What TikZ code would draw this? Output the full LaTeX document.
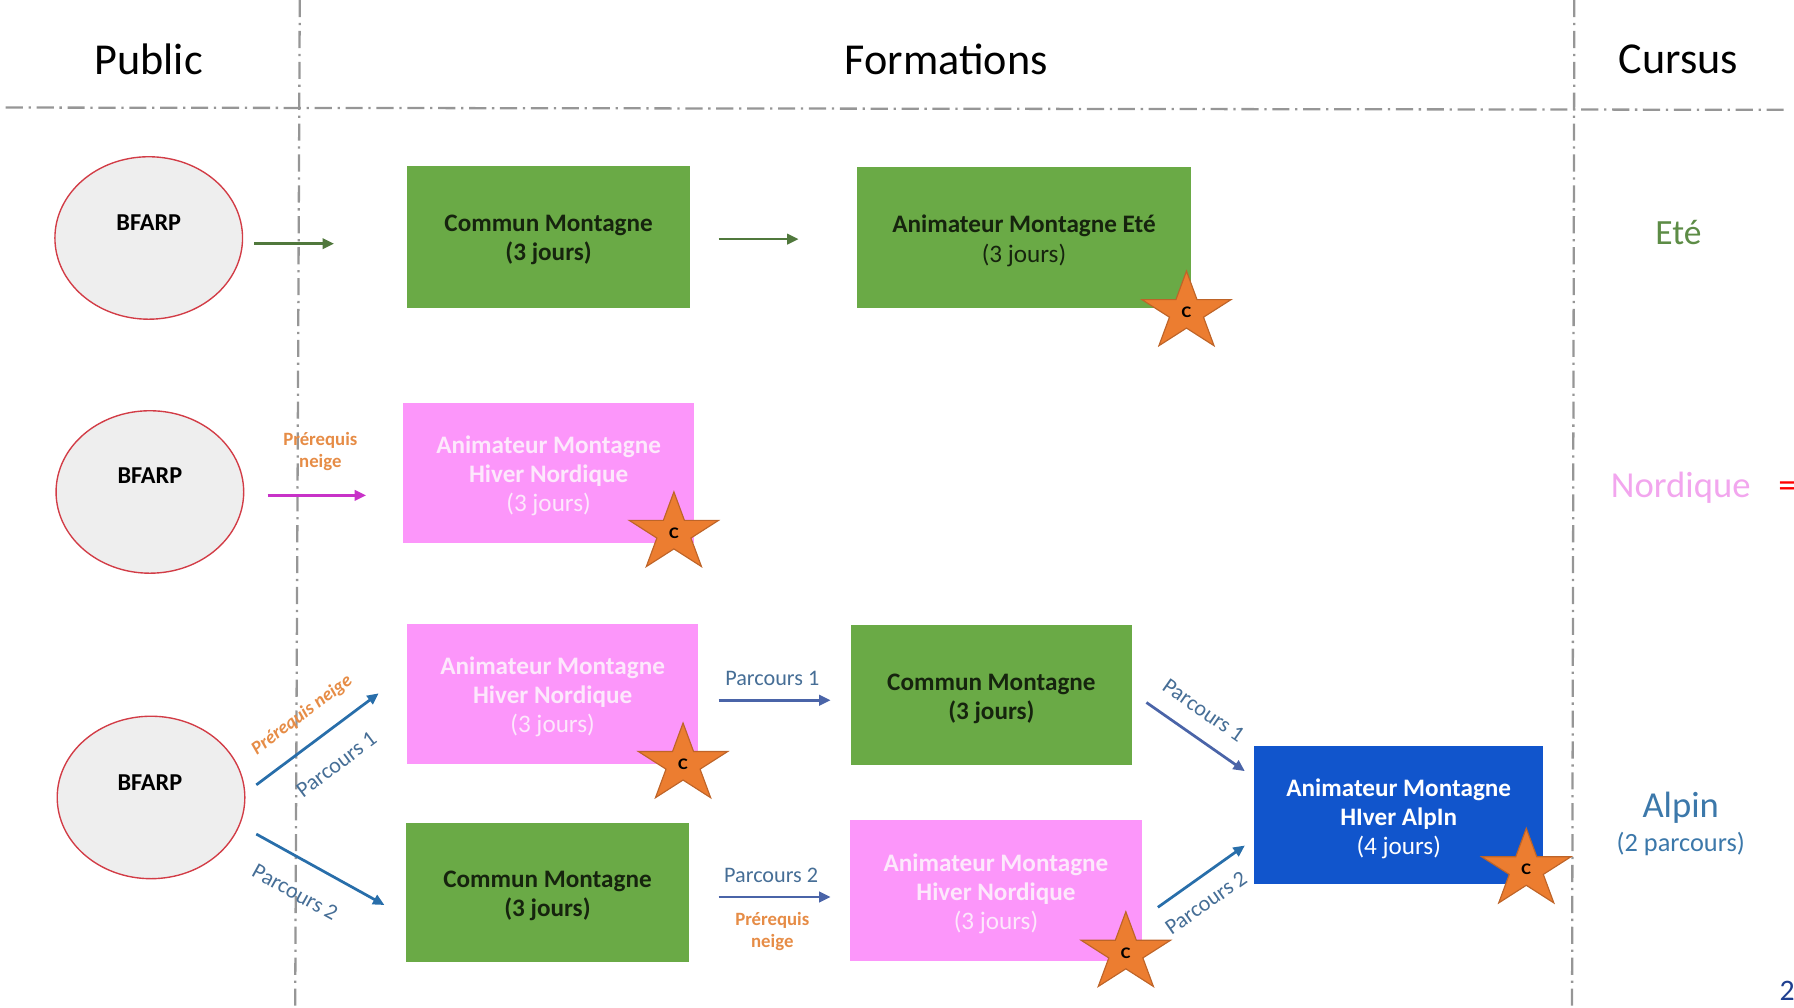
\documentclass[tikz,border=0pt]{standalone}
\usepackage{fontspec}
\setmainfont{Carlito}
\usetikzlibrary{arrows.meta,shapes.geometric}
\definecolor{gbox}{RGB}{106,170,70}
\definecolor{gtext}{RGB}{22,36,14}
\definecolor{pbox}{RGB}{252,150,250}
\definecolor{ptext}{RGB}{253,232,252}
\definecolor{bbox}{RGB}{17,85,204}
\definecolor{starfill}{RGB}{236,125,48}
\definecolor{stardraw}{RGB}{190,100,40}
\definecolor{garrow}{RGB}{80,120,60}
\definecolor{marrow}{RGB}{200,50,200}
\definecolor{barrow}{RGB}{40,110,170}
\definecolor{sarrow}{RGB}{74,100,168}
\definecolor{lblue}{RGB}{70,110,150}
\definecolor{lorange}{RGB}{230,140,70}
\definecolor{divider}{RGB}{150,150,150}
\definecolor{ellfill}{RGB}{238,238,238}
\definecolor{elldraw}{RGB}{210,60,70}
\definecolor{ete}{RGB}{93,140,70}
\definecolor{nordique}{RGB}{242,166,238}
\definecolor{alpin}{RGB}{60,120,170}
\definecolor{pagenum}{RGB}{31,63,143}
\begin{document}
\begin{tikzpicture}[x=0.5pt,y=-0.5pt,
  sep/.style={draw=divider,line width=1pt,dash pattern=on 7.5pt off 2.5pt on 1pt off 2.5pt},
  head/.style={font={\fontsize{19.3}{23}\selectfont}},
  pub/.style={ellipse,draw=elldraw,line width=0.6pt,fill=ellfill,minimum width=82pt,minimum height=71pt,inner sep=0pt},
  pubtext/.style={font={\fontsize{10.6}{12}\selectfont\bfseries},inner sep=0pt},
  box/.style={rectangle,inner sep=0pt},
  greenbox/.style={box,fill=gbox},
  pinkbox/.style={box,fill=pbox},
  bluebox/.style={box,fill=bbox},
  boxtext/.style={align=center,inner sep=0pt,font={\fontsize{11}{12.7}\selectfont}},
  gtxt/.style={boxtext,text=gtext},
  ptxt/.style={boxtext,text=ptext},
  btxt/.style={boxtext,text=white},
  cstar/.style={star,star points=5,star point ratio=2.62,minimum size=41pt,inner sep=0pt,yscale=0.88,fill=starfill,draw=stardraw,line width=0.5pt,font={\fontsize{8}{9}\selectfont\bfseries},text=black},
  arr/.style={-{Triangle[length=5pt,width=4.5pt]},line width=1.2pt},
  plabel/.style={text=lblue,font={\fontsize{9.7}{11}\selectfont}},
  olabel/.style={text=lorange,align=center,font={\fontsize{8.2}{9.6}\selectfont\bfseries}},
  cursus/.style={font={\fontsize{16}{18}\selectfont}}
]
\useasboundingbox (0,0) rectangle (1568,881);

% dividers
\draw[sep] (262,0) -- (258,881);
\draw[sep] (1376,0) -- (1374,881);
\draw[sep] (5,94) -- (1562,96);

% headings
\node[head] (hpub) at (130,52) {Public};
\node[head] (hform) at (827,52) {Formations};
\node[head] (hcur) at (1467,52) {Cursus};

% public ellipses
\node[pub] (p1) at (130,208) {};
\node[pub] (p2) at (131,430) {};
\node[pub] (p3) at (132,697) {};
\node[pubtext] (p1t) at (130,195) {BFARP};
\node[pubtext] (p2t) at (131,416) {BFARP};
\node[pubtext] (p3t) at (131,684) {BFARP};

% row 1
\node[greenbox,minimum width=123.5pt,minimum height=62pt] (cm1) at (479.5,207) {};
\node[gtxt] (cm1t) at ([yshift=-1.5pt]cm1.center) {\bfseries Commun Montagne\\\bfseries (3 jours)};
\node[greenbox,minimum width=146pt,minimum height=61.5pt] (ame) at (895,207.5) {};
\node[gtxt] (amet) at ([yshift=-1.5pt]ame.center) {\bfseries Animateur Montagne Eté\\(3 jours)};
\node[cstar] (s1) at (1037,273) {C};

% row 2
\node[pinkbox,minimum width=127.5pt,minimum height=61.5pt] (hn1) at (479.5,413.5) {};
\node[ptxt] (hn1t) at ([yshift=-1.2pt]hn1.center) {\bfseries Animateur Montagne\\\bfseries Hiver Nordique\\(3 jours)};
\node[cstar] (s2) at (589,466) {C};

% row 3
\node[pinkbox,minimum width=127pt,minimum height=61.5pt] (hn2) at (483,606.5) {};
\node[ptxt] (hn2t) at ([yshift=-1.2pt]hn2.center) {\bfseries Animateur Montagne\\\bfseries Hiver Nordique\\(3 jours)};
\node[cstar] (s3) at (597,668) {C};
\node[greenbox,minimum width=123.5pt,minimum height=61pt] (cm2) at (478.5,780) {};
\node[gtxt] (cm2t) at ([yshift=-1.5pt]cm2.center) {\bfseries Commun Montagne\\\bfseries (3 jours)};
\node[greenbox,minimum width=122.5pt,minimum height=61.5pt] (cm3) at (866.5,607.5) {};
\node[gtxt] (cm3t) at ([yshift=-1.5pt]cm3.center) {\bfseries Commun Montagne\\\bfseries (3 jours)};
\node[pinkbox,minimum width=127.5pt,minimum height=61.5pt] (hn3) at (870.5,778.5) {};
\node[ptxt] (hn3t) at ([yshift=-1.2pt]hn3.center) {\bfseries Animateur Montagne\\\bfseries Hiver Nordique\\(3 jours)};
\node[cstar] (s4) at (984,833) {C};
\node[bluebox,minimum width=126.5pt,minimum height=60.5pt] (ha) at (1222.5,712.5) {};
\node[btxt] (hat) at ([yshift=-1.5pt]ha.center) {\bfseries Animateur Montagne\\\bfseries HIver AlpIn\\(4 jours)};
\node[cstar] (s5) at (1334,760) {C};

% arrow end points
\coordinate (a1s) at (222,213); \coordinate (a1e) at (292,213);
\coordinate (a2s) at (628,209); \coordinate (a2e) at (698,209);
\coordinate (a3s) at (234,433); \coordinate (a3e) at (320,433);
\coordinate (a4s) at (224,686); \coordinate (a4e) at (331,606);
\coordinate (a5s) at (224,729); \coordinate (a5e) at (336,791);
\coordinate (a6s) at (628,612); \coordinate (a6e) at (726,612);
\coordinate (a7s) at (628,784); \coordinate (a7e) at (726,784);
\coordinate (a8s) at (1002,614); \coordinate (a8e) at (1088,674);
\coordinate (a9s) at (1012,793); \coordinate (a9e) at (1088,739);

\draw[arr,draw=garrow] (a1s) -- (a1e);
\draw[arr,draw=garrow] (a2s) -- (a2e);
\draw[arr,draw=marrow] (a3s) -- (a3e);
\draw[arr,draw=barrow] (a4s) -- (a4e);
\draw[arr,draw=barrow] (a5s) -- (a5e);
\draw[arr,draw=sarrow] (a6s) -- (a6e);
\draw[arr,draw=sarrow] (a7s) -- (a7e);
\draw[arr,draw=sarrow] (a8s) -- (a8e);
\draw[arr,draw=barrow] (a9s) -- (a9e);

% labels
\node[olabel] (l3) at (280,395) {Prérequis\\neige};
\node[olabel,rotate=36.8,font={\fontsize{8.2}{9.6}\selectfont\bfseries\itshape}] (l4a) at (264,625) {Prérequis neige};
\node[plabel,rotate=36.8] (l4b) at (294,668) {Parcours 1};
\node[plabel,rotate=-29] (l5) at (258,780) {Parcours 2};
\node[plabel] (l6) at (675,593) {Parcours 1};
\node[plabel] (l7) at (674,765) {Parcours 2};
\node[olabel] (l7b) at (675,814) {Prérequis\\neige};
\node[plabel,rotate=-35] (l8) at (1052,621) {Parcours 1};
\node[plabel,rotate=35] (l9) at (1054,789) {Parcours 2};

% cursus column
\node[cursus,text=ete,font={\fontsize{15.5}{18}\selectfont}] (cete) at (1467,203) {Eté};
\node[cursus,text=nordique] (cnor) at (1469,426) {Nordique};
\node[cursus,text=alpin] (calp) at (1469,706) {Alpin};
\node[text=alpin,font={\fontsize{11.5}{13}\selectfont}] (calp2) at (1469,738) {(2 parcours)};
\node[anchor=west,text=red,font={\fontsize{16}{18}\selectfont},inner sep=0pt] (eq) at (1554,428) {=};
\node[anchor=west,text=pagenum,font={\fontsize{13}{15}\selectfont},inner sep=0pt] (pg) at (1555,866) {2};
\end{tikzpicture}
\end{document}
